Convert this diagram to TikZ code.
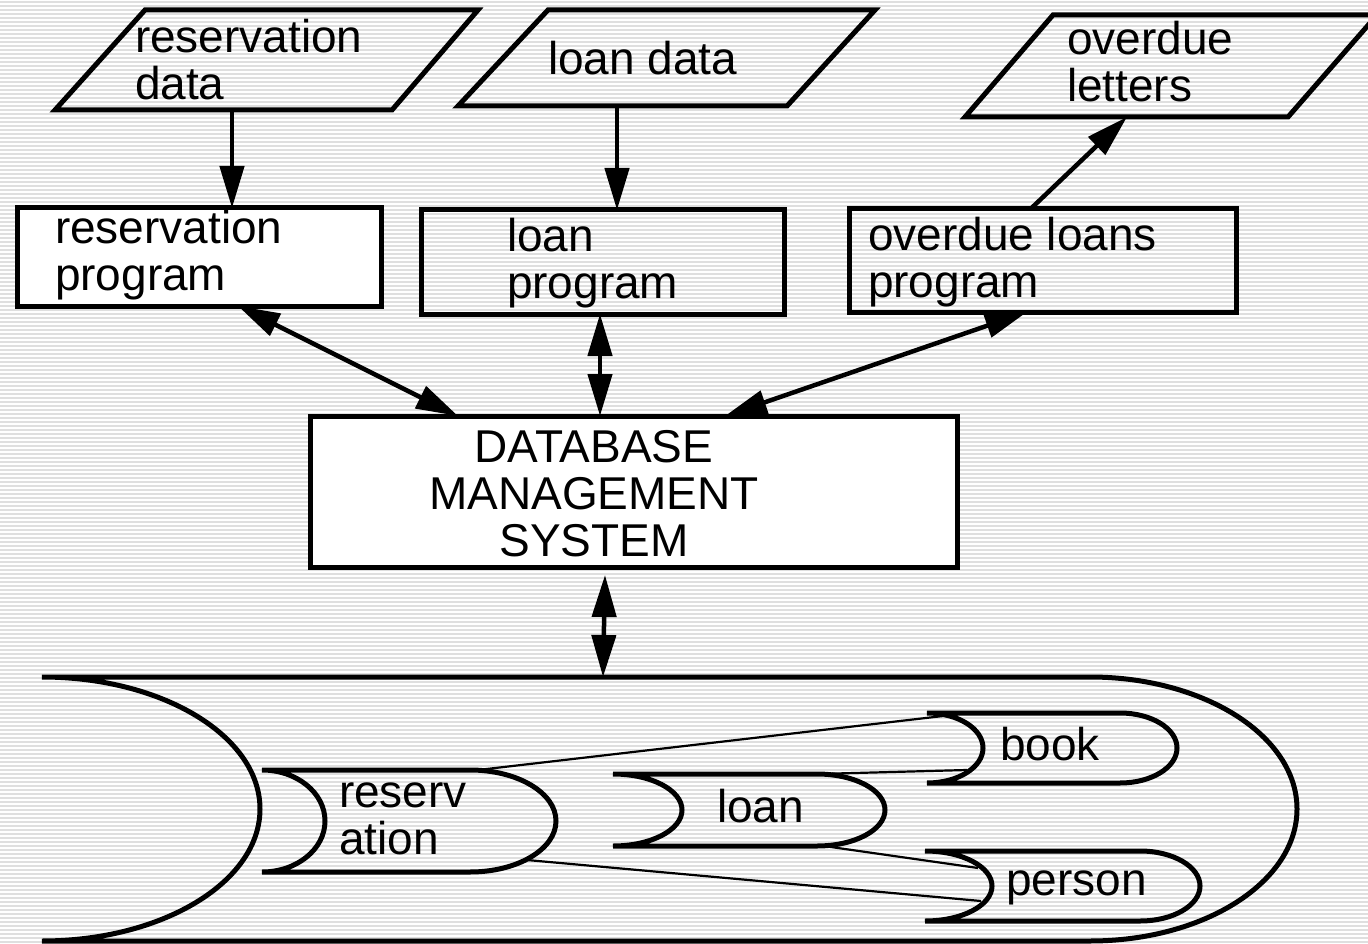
\documentclass[tikz,border=0pt]{standalone}
\usepackage{fontspec}
\setmainfont{Liberation Sans}
\usetikzlibrary{arrows.meta}
\begin{document}
\begin{tikzpicture}[x=1pt,y=1pt,
  every node/.style={font=\fontsize{46}{47}\selectfont, inner sep=0pt, outer sep=0pt},
  boxs/.style={draw, line width=5pt, rectangle, inner sep=0pt},
  thickline/.style={line width=5pt, line join=miter},
  arr/.style={line width=4.5pt, -{Triangle[length=42pt,width=24pt]}},
  darr/.style={line width=4.5pt, {Triangle[length=42pt,width=24pt]}-{Triangle[length=42pt,width=24pt]}},
  rel/.style={line width=2.2pt},
  lbl/.style={anchor=base west, align=left},
  stripe/.style={gray!25, line width=1.5pt}]
\useasboundingbox (0,0) rectangle (1368,-944);
\fill[white] (0,0) rectangle (1368,-944);
\foreach \k in {0,...,235} \draw[stripe] (0,-2-4*\k) -- (1368,-2-4*\k);

% input / output parallelograms (base anchor = last line)
\draw[thickline] (145,-10) -- (478,-10) -- (392,-110) -- (55,-110) -- cycle;
\node[lbl] (rdt) at (135,-100) {reservation\\data};
\draw[thickline] (548,-10) -- (875,-10) -- (787,-106) -- (458,-106) -- cycle;
\node[lbl] (ldt) at (548,-75) {loan data};
\draw[thickline] (1053,-15) -- (1377,-15) -- (1288,-117) -- (965,-117) -- cycle;
\node[lbl] (olt) at (1067,-102) {overdue\\letters};
\coordinate (rdB) at (232,-110);
\coordinate (ldB) at (617,-106);
\coordinate (olB) at (1127,-117);

% program boxes
\node[boxs, fill=white, minimum width=364pt, minimum height=98pt] (rp) at (199,-257) {};
\node[lbl] (rpt) at (55,-290) {reservation\\program};
\node[boxs, minimum width=363pt, minimum height=104pt] (lp) at (602.5,-262) {};
\node[lbl] (lpt) at (507,-298) {loan\\program};
\node[boxs, minimum width=387pt, minimum height=103pt] (op) at (1042.5,-260.5) {};
\node[lbl] (opt) at (868,-297) {overdue loans\\program};

% DBMS
\node[boxs, fill=white, minimum width=647pt, minimum height=151pt] (dbms) at (633.5,-491.5) {};
\node[anchor=base, align=center] (dbt) at (594,-556) {DATABASE\\MANAGEMENT\\SYSTEM};

% arrows
\draw[arr] (rdB) -- (rdB |- rp.north);
\draw[arr] (ldB) -- (ldB |- lp.north);
\draw[arr] ([xshift=-12pt]op.north) -- (olB);
\draw[darr] ([xshift=39pt]rp.south) -- ([xshift=-175.5pt]dbms.north);
\draw[darr] ([xshift=-2.5pt]lp.south) -- ([xshift=-33.5pt]dbms.north);
\draw[darr] ([xshift=-15.5pt]op.south) -- ([xshift=91.5pt]dbms.north);

% storage
\coordinate (stT) at (603,-677);
\draw[thickline] (42,-677) -- (1090,-677) arc[start angle=90,end angle=-90,x radius=207,y radius=132]
  -- (42,-941) arc[start angle=-90,end angle=90,x radius=218,y radius=132] -- cycle;
\draw[darr] ([xshift=-28.5pt,yshift=-8pt]dbms.south) -- (stT);

% files
\draw[thickline] (262,-770) -- (470,-770) arc[start angle=90,end angle=-90,x radius=86,y radius=51]
  -- (262,-872) arc[start angle=-90,end angle=90,x radius=63,y radius=51] -- cycle;
\node[lbl] (rest) at (339,-854) {reserv\\ation};
\draw[thickline] (613,-774) -- (817,-774) arc[start angle=90,end angle=-90,x radius=68,y radius=36]
  -- (613,-846) arc[start angle=-90,end angle=90,x radius=69,y radius=36] -- cycle;
\node[lbl] (loant) at (717,-822) {loan};
\draw[thickline] (927,-713) -- (1120,-713) arc[start angle=90,end angle=-90,x radius=57,y radius=35]
  -- (927,-783) arc[start angle=-90,end angle=90,x radius=56,y radius=35] -- cycle;
\node[lbl] (bookt) at (1000,-760) {book};
\draw[thickline] (925,-851) -- (1140,-851) arc[start angle=90,end angle=-90,x radius=60,y radius=35]
  -- (925,-921) arc[start angle=-90,end angle=90,x radius=67,y radius=35] -- cycle;
\node[lbl] (persont) at (1006,-895) {person};

% relationships
\coordinate (resTR) at (478,-770);
\coordinate (resBR) at (527,-860);
\coordinate (loanTR) at (817,-774);
\coordinate (loanBR) at (817,-845);
\coordinate (bookA) at (943,-716);
\coordinate (bookB) at (967,-770);
\coordinate (persA) at (978,-868);
\coordinate (persB) at (981,-901);
\draw[rel] (resTR) -- (bookA);
\draw[rel] (loanTR) -- (bookB);
\draw[rel] (loanBR) -- (persA);
\draw[rel] (resBR) -- (persB);
\end{tikzpicture}
\end{document}
